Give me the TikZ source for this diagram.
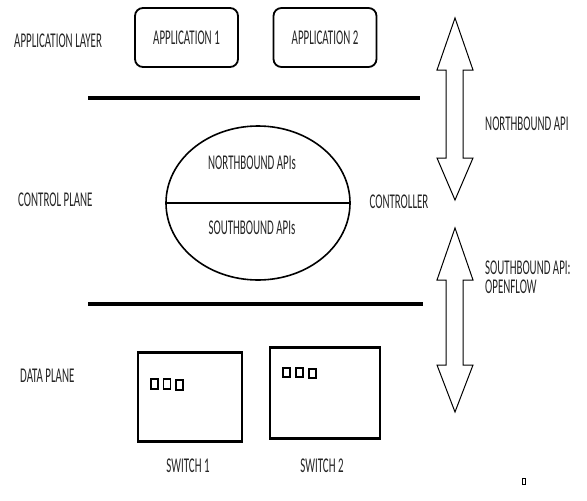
\documentclass[tikz,border=0pt]{standalone}
\usepackage{fontspec}
\setmainfont[FakeStretch=0.52]{Carlito}
\usetikzlibrary{shapes.geometric}
\begin{document}
\begin{tikzpicture}[x=1pt,y=-1pt,
  lbl/.style={font=\fontsize{21}{21}\selectfont, text=black!85, inner sep=0pt},
  appbox/.style={draw, line width=1.8pt, rounded corners=8pt, minimum width=103pt, minimum height=59pt, inner sep=0pt, font=\fontsize{21}{21}\selectfont, text=black!85},
  layerline/.style={line width=3.5pt},
  bigarrow/.style={draw, line width=1pt, line join=miter},
  swbox/.style={draw, line width=1.4pt, inner sep=0pt},
  port/.style={draw, line width=1.4pt}
]
\useasboundingbox (0,0) rectangle (587,501);
\fill[white] (0,0) rectangle (587,501);

% application layer
\node[lbl, anchor=west] (al) at (14,41) {APPLICATION LAYER};
\node[appbox] (a1) at (186.5,37.5) {APPLICATION 1};
\node[appbox] (a2) at (325,37.5) {APPLICATION 2};

% layer lines
\coordinate (l1a) at (88,98);
\coordinate (l1b) at (420,98);
\draw[layerline] (l1a) -- (l1b);
\coordinate (l2a) at (88,304);
\coordinate (l2b) at (423,304);
\draw[layerline] (l2a) -- (l2b);

% controller
\node[draw, ellipse, line width=1.6pt, minimum width=184pt, minimum height=154pt, inner sep=0pt] (ctrl) at (258,203) {};
\draw[line width=1.4pt] (ctrl.west) -- (ctrl.east);
\node[lbl] (nb) at (252,163) {NORTHBOUND APIs};
\node[lbl] (sb) at (252,228) {SOUTHBOUND APIs};
\node[lbl, anchor=west] (cp) at (18,200) {CONTROL PLANE};
\node[lbl] (ct) at (399,202) {CONTROLLER};

% double arrows
\draw[bigarrow] (455,18) -- (473,70) -- (463,70) -- (463,158) -- (473,158) -- (455,200)
  -- (437,158) -- (446,158) -- (446,70) -- (437,70) -- cycle;
\draw[bigarrow] (455,228) -- (473,280) -- (463,280) -- (463,365) -- (473,365) -- (455,412)
  -- (437,365) -- (446,365) -- (446,280) -- (437,280) -- cycle;
\node[lbl, anchor=west] (nba) at (485,124) {NORTHBOUND API};
\node[lbl, anchor=west] (sba) at (485,268) {SOUTHBOUND API:};
\node[lbl, anchor=west] (of) at (485,287) {OPENFLOW};

% data plane
\node[lbl, anchor=west] (dp) at (20,376) {DATA PLANE};
\node[swbox, minimum width=104pt, minimum height=88pt] (s1) at (190,397) {};
\draw[line width=3pt] (s1.north west) -- (s1.north east);
\draw[line width=3pt] (s1.south west) -- (s1.south east);
\node[swbox, minimum width=110pt, minimum height=90pt] (s2) at (325,393) {};
\draw[line width=3pt] (s2.north west) -- (s2.north east);
\draw[line width=3pt] (s2.south west) -- (s2.south east);
\draw[port] (151,379) rectangle (158,389);
\draw[port] (163.5,379) rectangle (170.5,389);
\draw[port] (176,380) rectangle (183,390);
\draw[port] (283,368) rectangle (290,377);
\draw[port] (296,368) rectangle (303,377);
\draw[port] (309,369) rectangle (316,378);
\node[lbl] (sw1) at (188,466) {SWITCH 1};
\node[lbl] (sw2) at (322,466) {SWITCH 2};

% stray mark
\draw[line width=1pt] (522,478) rectangle (525,484);
\end{tikzpicture}
\end{document}
